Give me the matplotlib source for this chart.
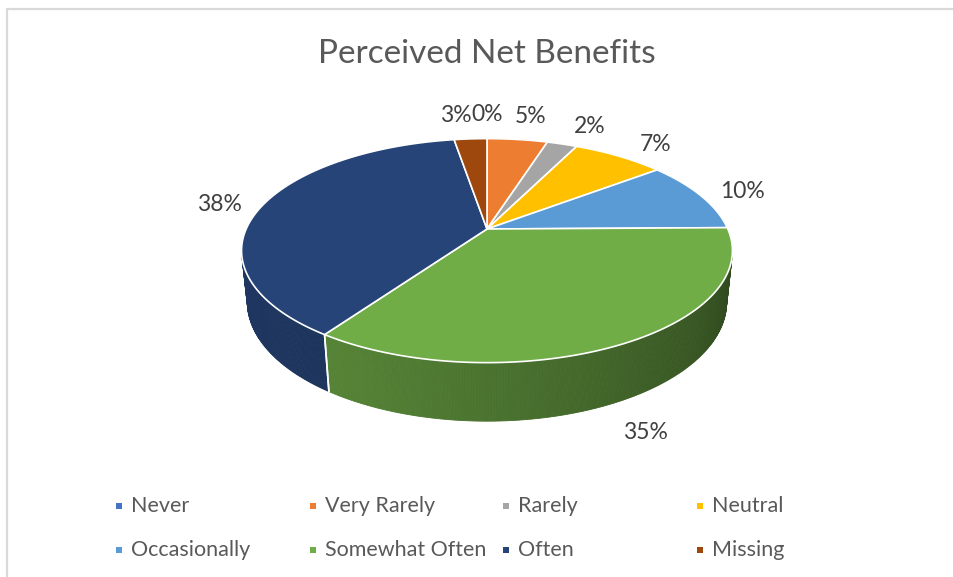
import numpy as np
import matplotlib
matplotlib.use("Agg")
import matplotlib.pyplot as plt
from matplotlib.colors import to_rgb

# data (percent of respondents)
categories = ["Never", "Very Rarely", "Rarely", "Neutral",
              "Occasionally", "Somewhat Often", "Often", "Missing"]
values = [0.0, 4.8, 2.4, 7.3, 10.3, 34.8, 37.8, 2.6]
colors = ["#4472C4", "#ED7D31", "#A5A5A5", "#FFC000",
          "#5B9BD5", "#70AD47", "#264478", "#9E480E"]
title = "Perceived Net Benefits"

plt.rcParams['font.family'] = ['Lato', 'DejaVu Sans']

W, H = 954, 577
fig = plt.figure(figsize=(W / 100, H / 100), dpi=100)
ax = fig.add_axes([0, 0, 1, 1])
ax.set_xlim(0, W)
ax.set_ylim(H, 0)
ax.axis('off')

# chart border (only top/left visible in the crop)
ax.plot([7, 7, W + 5], [H + 5, 9, 9], color="#d9d9d9", lw=1.6,
        solid_capstyle='butt')

# perspective setup for the 3d pie
cx, cy = 487, 229
elev = np.radians(26.6)
se, ce = np.sin(elev), np.cos(elev)
D = 4.63
F = 1115
thick = 0.24


def proj(theta, r=1.0, z=0.0):
    X = r * np.cos(theta)
    Y = r * np.sin(theta)
    d = D + Y * ce - z * se
    sx = F * X / d
    sy = F * ((Y + D * ce) * se + (z - D * se) * ce) / d
    return cx + sx, cy - sy


total = sum(values)
bounds = [np.pi / 2]
for v in values:
    bounds.append(bounds[-1] - v / total * 2 * np.pi)

# visible part of the side wall
t_sil = np.arcsin(-1 / (D * ce))
vis_lo, vis_hi = -np.pi - t_sil, t_sil


def shade(t):
    return 0.60 + 0.2 * np.cos(t - np.radians(-160))


# side walls
for i, v in enumerate(values):
    a0, a1 = bounds[i + 1], bounds[i]
    lo, hi = max(a0, vis_lo), min(a1, vis_hi)
    lo2, hi2 = max(a0 - 2 * np.pi, vis_lo), min(a1 - 2 * np.pi, vis_hi)
    for (l, h) in [(lo, hi), (lo2, hi2)]:
        if h <= l:
            continue
        ts = np.linspace(l, h, max(int((h - l) / 0.01), 2))
        base = np.array(to_rgb(colors[i]))
        for k in range(len(ts) - 1):
            t = np.array([ts[k], ts[k + 1]])
            xt, yt = proj(t)
            xb, yb = proj(t[::-1], z=-thick)
            c = np.clip(base * shade(t.mean()), 0, 1)
            ax.fill(np.r_[xt, xb], np.r_[yt, yb], color=c, lw=0.6,
                    ec=c, zorder=2)
        # white seam at slice boundaries on the side
        for t in (l, h):
            if vis_lo < t < vis_hi:
                x1, y1 = proj(t)
                x2, y2 = proj(t, z=-thick)
                ax.plot([x1, x2], [y1, y2], color="white", lw=1.2, zorder=3)

# top surface
for i, v in enumerate(values):
    if v <= 0:
        continue
    ts = np.linspace(bounds[i], bounds[i + 1], 200)
    xs, ys = proj(ts)
    ax.fill(np.r_[cx, xs], np.r_[cy, ys], color=colors[i], ec="white",
            lw=1.2, zorder=4)

# data labels: outside end, offset along the screen direction of the slice
labels = []
for i, v in enumerate(values):
    mid = (bounds[i] + bounds[i + 1]) / 2
    front = np.sin(mid) < -0.3
    px, py = proj(mid, z=-thick if front else 0.0)
    nx, ny = px - cx, py - cy
    n = np.hypot(nx, ny)
    lx = px + 42 * nx / n
    ly = py + (40 if front else 24) * ny / n
    t = ax.text(lx, ly, f"{v / total * 100:.0f}%", ha='center',
                va='center', fontsize=16.5, color="#404040", zorder=5)
    labels.append(t)

# push overlapping neighbour labels apart (left one moves left)
fig.canvas.draw()
rend = fig.canvas.get_renderer()
inv = ax.transData.inverted()
order = sorted(labels, key=lambda t: t.get_position()[0])
for a, b in zip(order[:-1], order[1:]):
    ba = a.get_window_extent(rend)
    bb = b.get_window_extent(rend)
    if ba.overlaps(bb):
        shift = ba.x1 - bb.x0
        x, y = a.get_position()
        a.set_position((x - shift, y))

ax.text(487, 54, title, ha='center', va='center', fontsize=24,
        color="#595959")

# legend, excel style: fixed column widths
col_x = [116, 310, 503, 697]
row_y = [506, 550]
for i, name in enumerate(categories):
    x = col_x[i % 4]
    y = row_y[i // 4]
    ax.scatter([x + 3], [y], marker='s', s=20, color=colors[i], lw=0)
    ax.text(x + 15, y, name, ha='left', va='center', fontsize=15.5,
            color="#595959")

fig.savefig("out.png", dpi=100)
